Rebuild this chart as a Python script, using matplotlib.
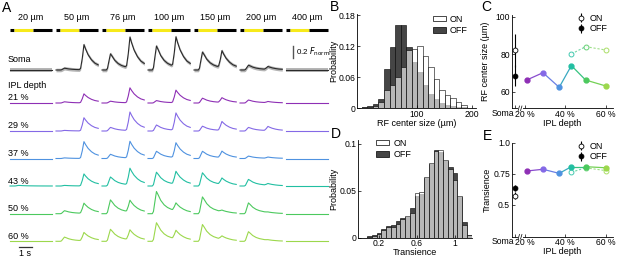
import matplotlib.pyplot as plt
import matplotlib.transforms as mtrans
from matplotlib.patches import Patch
from matplotlib.colors import to_rgb

plt.rcParams['font.family'] = ['Liberation Sans', 'DejaVu Sans']
plt.rcParams['font.size'] = 6.5

W, H = 617, 257

# ---------------- panel A data ----------------
spot_sizes = ['20 µm', '50 µm', '76 µm', '100 µm', '150 µm', '200 µm', '400 µm']
row_labels = ['21 %', '29 %', '37 %', '43 %', '50 %', '60 %']

# samples within one stimulus cycle (s), with ON / OFF response shapes
t_cycle = [0, 0.33, 0.42, 0.52, 0.65, 0.78, 0.98, 1.24, 1.5, 1.79, 1.89, 2.02, 2.15, 2.28, 2.47, 2.73, 2.99, 3.25]
on_shape = [0, 0, 0.1, 0.5, 1.0, 0.85, 0.6, 0.4, 0.28, 0.2, 0.17, 0.14, 0.11, 0.09, 0.07, 0.05, 0.03, 0.02]
off_shape = [0, 0, 0, 0, 0, 0, 0, 0, 0, 0, 0.05, 0.45, 1.0, 0.82, 0.6, 0.4, 0.27, 0.2]
light_on, light_off = 0.33, 1.79
cycle_len = 3.25

# peak amplitudes (F_norm) per spot size
soma_on = [0, 0.03, 0.27, 0.40, 0.30, 0.08, 0]
soma_off = [0, 0.42, 0.52, 0.51, 0.29, 0.05, 0]
soma_sem = 0.03
ipl_on = [
    [0, 0.02, 0.03, 0.04, 0.08, 0.05, 0],
    [0, 0.01, 0.06, 0.10, 0.08, 0.06, 0],
    [0, 0.01, 0.07, 0.12, 0.12, 0.04, 0],
    [0.01, 0.01, 0.15, 0.23, 0.22, 0.11, 0],
    [0, 0.05, 0.23, 0.37, 0.28, 0.18, 0],
    [0, 0.07, 0.20, 0.31, 0.28, 0.16, 0],
]
ipl_off = [
    [0, 0.15, 0.25, 0.21, 0.08, 0.02, 0],
    [0, 0.22, 0.31, 0.29, 0.15, 0.07, 0],
    [0, 0.28, 0.28, 0.25, 0.11, 0.02, 0],
    [0, 0.20, 0.28, 0.22, 0.11, 0.03, 0],
    [0, 0.17, 0.20, 0.14, 0.03, 0.01, 0],
    [0, 0.14, 0.17, 0.15, 0.06, 0.01, 0],
]
depth_colors = ['#8e2fb5', '#8469e6', '#4f92e0', '#22bfa2', '#4cc95e', '#9cd84c']

# ---------------- panel B / D data ----------------
rf_bins = [5, 15, 25, 35, 45, 55, 65, 75, 85, 95, 105, 115, 125, 135, 145, 155, 165, 175, 185]
rf_off = [0.002, 0.003, 0.007, 0.018, 0.075, 0.118, 0.161, 0.160, 0.118, 0.090, 0.070, 0.045,
          0.028, 0.018, 0.010, 0.006, 0.004, 0.002, 0.001]
rf_on = [0.001, 0.002, 0.004, 0.012, 0.035, 0.045, 0.060, 0.080, 0.112, 0.115, 0.120, 0.100,
         0.080, 0.057, 0.035, 0.025, 0.019, 0.012, 0.006]

tr_bins = [0.10, 0.15, 0.20, 0.25, 0.30, 0.35, 0.40, 0.45, 0.50, 0.55, 0.60, 0.65, 0.70, 0.75,
           0.80, 0.85, 0.90, 0.95, 1.00, 1.05, 1.10, 1.15]
tr_on = [0.001, 0.002, 0.004, 0.008, 0.011, 0.011, 0.015, 0.0195, 0.023, 0.026, 0.048, 0.049,
         0.065, 0.079, 0.092, 0.093, 0.083, 0.073, 0.061, 0.044, 0.0135, 0.003]
tr_off = [0.002, 0.003, 0.005, 0.009, 0.012, 0.013, 0.018, 0.0206, 0.0217, 0.032, 0.044, 0.047,
          0.063, 0.078, 0.093, 0.091, 0.082, 0.075, 0.0685, 0.0437, 0.017, 0.003]

# ---------------- panel C / E data ----------------
depths = [21, 29, 37, 43, 50, 60]
soma_x = 15
rf_soma_on, rf_soma_on_err = 82, 9
rf_soma_off, rf_soma_off_err = 68.5, 5.5
rf_ipl_off = [66.2, 70.1, 62.3, 73.9, 66.2, 63.0]
rf_ipl_on = [80.1, 84.0, 82.2]          # 43, 50, 60 %
tr_soma_on, tr_soma_on_err = 0.575, 0.03
tr_soma_off, tr_soma_off_err = 0.635, 0.025
tr_ipl_off = [0.774, 0.788, 0.755, 0.809, 0.809, 0.80]
tr_ipl_on = [0.764, 0.80, 0.777]


def px_ax(l, t, r, b):
    return fig.add_axes([l / W, 1 - b / H, (r - l) / W, (b - t) / H])


def ftxt(x, y, s, **kw):
    fig.text(x / W, 1 - y / H, s, **kw)


def mix(c1, c2):
    a, b = to_rgb(c1), to_rgb(c2)
    return tuple((u + v) / 2 for u, v in zip(a, b))


fig = plt.figure(figsize=(W / 100, H / 100), dpi=100)

# ================= A =================
axA = px_ax(0, 0, 360, H)
axA.set_xlim(-10 / 13, 350 / 13)
axA.set_ylim(-H / 60, 0)
axA.axis('off')
pitch = 46 / 13
soma_base = -70 / 60
row_base = [-103 / 60, -131 / 60, -158.5 / 60, -186 / 60, -213.7 / 60, -241.3 / 60]

for c, name in enumerate(spot_sizes):
    x0 = c * pitch
    axA.text(x0 + cycle_len / 2, -18 / 60, name, ha='center', va='center')
    yb = -30 / 60
    axA.plot([x0, x0 + light_on], [yb, yb], color='k', lw=2.2, solid_capstyle='butt')
    axA.plot([x0 + light_on, x0 + light_off], [yb, yb], color='#f7ea1a', lw=2.2, solid_capstyle='butt')
    axA.plot([x0 + light_off, x0 + cycle_len], [yb, yb], color='k', lw=2.2, solid_capstyle='butt')

    xs = [x0 + t for t in t_cycle]
    ys = [soma_base + soma_on[c] * a + soma_off[c] * b for a, b in zip(on_shape, off_shape)]
    axA.fill_between(xs, [y - soma_sem for y in ys], [y + soma_sem for y in ys],
                     color='#b5b5b5', lw=0)
    axA.plot(xs, ys, color='#2a2a2a', lw=0.8)
    for r in range(6):
        ys = [row_base[r] + ipl_on[r][c] * a + ipl_off[r][c] * b for a, b in zip(on_shape, off_shape)]
        axA.plot(xs, ys, color=depth_colors[r], lw=0.8)

lx = -2 / 13
axA.text(lx, -59 / 60, 'Soma', ha='left', va='center')
axA.text(lx, -85 / 60, 'IPL depth', ha='left', va='center')
for r, lab in enumerate(row_labels):
    axA.text(lx, row_base[r] + 5 / 60, lab, ha='left', va='center')

# scale bars
sx = 283 / 13
axA.plot([sx, sx], [-58 / 60, -46 / 60], color='#555555', lw=1.0)
axA.text(sx + 3 / 13, -52 / 60, r'0.2 $F_{\rm norm}$', ha='left', va='center', fontsize=5.8)
axA.plot([9 / 13, 22 / 13], [-247 / 60, -247 / 60], color='#333333', lw=0.9)
axA.text(15.5 / 13, -253 / 60, '1 s', ha='center', va='center')


def style(ax):
    for s in ['top', 'right']:
        ax.spines[s].set_visible(False)
    for s in ['left', 'bottom']:
        ax.spines[s].set_linewidth(0.6)
    ax.tick_params(direction='in', length=2, width=0.5, pad=1.2, labelsize=6.2)


leg_kw = dict(loc='upper left', frameon=False, fontsize=6.5, handlelength=1.4, handleheight=0.6,
              handletextpad=0.5, labelspacing=0.25, borderpad=0)

# ================= B =================
axB = px_ax(357, 14, 476, 108)
axB.bar(rf_bins, rf_off, width=10, color='#454545', edgecolor='k', linewidth=0.4)
axB.bar(rf_bins, rf_on, width=10, facecolor=(1, 1, 1, 0.62), edgecolor='k', linewidth=0.4)
axB.set_xlim(-9, 207)
axB.set_ylim(0, 0.182)
axB.set_xticks([100, 200])
axB.set_yticks([0, 0.06, 0.12, 0.18])
axB.set_yticklabels(['0', '0.06', '0.12', '0.18'])
axB.set_ylabel('Probability')
axB.yaxis.set_label_coords(-0.155, 0.5)
axB.set_xlabel('RF center size (µm)', labelpad=0.5)
style(axB)
axB.legend(handles=[Patch(facecolor='white', edgecolor='k', lw=0.5, label='ON'),
                    Patch(facecolor='#454545', edgecolor='k', lw=0.5, label='OFF')],
           bbox_to_anchor=(0.6, 1.04), **leg_kw)

# ================= D =================
axD = px_ax(358, 140, 472, 237.7)
axD.bar(tr_bins, tr_off, width=0.05, color='#454545', edgecolor='k', linewidth=0.4)
axD.bar(tr_bins, tr_on, width=0.05, facecolor=(1, 1, 1, 0.62), edgecolor='k', linewidth=0.4)
axD.set_xlim(-0.021, 1.179)
axD.set_ylim(0, 0.1039)
axD.set_xticks([0.2, 0.6, 1])
axD.set_xticklabels(['0.2', '0.6', '1'])
axD.set_yticks([0, 0.05, 0.1])
axD.set_yticklabels(['0', '0.05', '0.1'])
axD.set_ylabel('Probability')
axD.yaxis.set_label_coords(-0.17, 0.5)
axD.set_xlabel('Transience', labelpad=0)
style(axD)
axD.legend(handles=[Patch(facecolor='white', edgecolor='k', lw=0.5, label='ON'),
                    Patch(facecolor='#454545', edgecolor='k', lw=0.5, label='OFF')],
           bbox_to_anchor=(0.12, 1.06), **leg_kw)


# ================= C / E =================
def depth_panel(ax, s_on, s_on_e, s_off, s_off_e, ipl_off_v, ipl_on_v):
    ax.errorbar(soma_x, s_on, yerr=s_on_e, fmt='o', mfc='white', mec='k', ecolor='k',
                ms=3.5, mew=0.6, elinewidth=0.8, label='ON', zorder=4, clip_on=False)
    ax.errorbar(soma_x, s_off, yerr=s_off_e, fmt='o', mfc='k', mec='k', ecolor='k',
                ms=3.5, mew=0.6, elinewidth=0.8, label='OFF', zorder=3, clip_on=False)
    for i in range(5):
        ax.plot(depths[i:i + 2], ipl_off_v[i:i + 2], color=mix(depth_colors[i], depth_colors[i + 1]),
                lw=0.9, zorder=2)
    for i in range(2):
        ax.plot(depths[3 + i:5 + i], ipl_on_v[i:i + 2], ls=(0, (2, 1.6)), lw=0.8,
                color=mix(depth_colors[3 + i], depth_colors[4 + i]), alpha=0.7, zorder=2)
    for i in range(3):
        ax.plot(depths[3 + i], ipl_on_v[i], 'o', mfc='white', mec=depth_colors[3 + i], ms=3.5,
                mew=0.7, alpha=0.85, zorder=3)
    for i in range(6):
        ax.plot(depths[i], ipl_off_v[i], 'o', color=depth_colors[i], ms=3.5, zorder=4)
    ax.set_xlim(13.6, 63.5)
    ax.set_xticks([soma_x, 20, 40, 60])
    ax.set_xticklabels(['', '20 %', '40 %', '60 %'])
    style(ax)
    # 'Soma' label, pushed a little left of its tick as in the original
    tr = ax.get_xaxis_transform() + mtrans.ScaledTranslation(-0.5 / 72, -0.2 / 72, fig.dpi_scale_trans)
    ax.text(soma_x, 0, 'Soma', transform=tr, ha='right', va='top', fontsize=6.2)
    ax.set_xlabel('IPL depth', labelpad=0)
    # axis break marks on the bottom spine
    bt = ax.get_xaxis_transform()
    ax.plot([17.0, 18.6], [0, 0], color='white', lw=1.5, transform=bt, clip_on=False, zorder=5)
    for xb in (17.1, 18.3):
        ax.plot([xb - 0.35, xb + 0.35], [-0.025, 0.025], color='k', lw=0.5, transform=bt,
                clip_on=False, zorder=6)
    ax.legend(loc='upper left', bbox_to_anchor=(0.6, 1.06), frameon=False, fontsize=6.5,
              handlelength=0.9, handletextpad=0.5, labelspacing=0.15, borderpad=0)


axC = px_ax(511.7, 15, 613, 108.3)
axC.set_ylim(51.1, 100.9)
axC.set_yticks([60, 80, 100])
axC.set_ylabel('RF center size (µm)')
axC.yaxis.set_label_coords(-0.21, 0.5)
depth_panel(axC, rf_soma_on, rf_soma_on_err, rf_soma_off, rf_soma_off_err, rf_ipl_off, rf_ipl_on)

axE = px_ax(511.7, 143, 613, 236.7)
axE.set_ylim(0.244, 1.0)
axE.set_yticks([0.5, 0.75, 1.0])
axE.set_yticklabels(['0.5', '0.75', '1.0'])
axE.set_ylabel('Transience')
axE.yaxis.set_label_coords(-0.2, 0.5)
depth_panel(axE, tr_soma_on, tr_soma_on_err, tr_soma_off, tr_soma_off_err, tr_ipl_off, tr_ipl_on)

# panel letters
for letter, x, y in [('A', 2, 8), ('B', 330, 7), ('C', 481, 7), ('D', 331, 134), ('E', 483, 136)]:
    ftxt(x, y, letter, fontsize=10, ha='left', va='center')

fig.savefig('out.png', dpi=100)
